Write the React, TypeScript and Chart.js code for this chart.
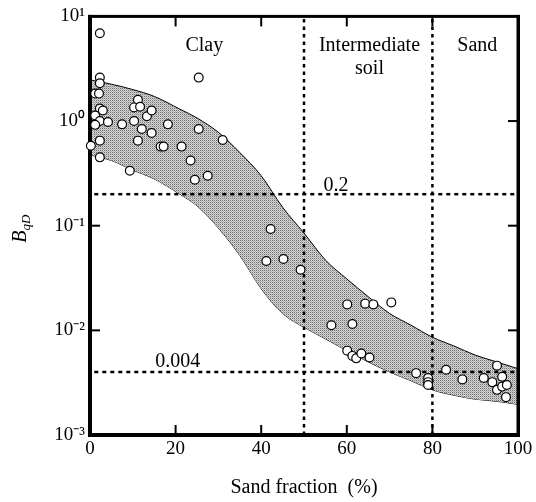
import React, { useEffect, useRef } from 'react';
import { Chart, registerables } from 'chart.js';

Chart.register(...registerables);

// ---- data ----
const sandFraction = [
  2.3, 25.4, 2.3, 2.3, 1.2, 2.1, 2.3, 3.0, 1.2, 2.3, 4.2, 7.5, 1.2, 11.2, 10.3, 11.7, 13.3, 14.4,
  10.3, 12.1, 14.4, 18.2, 25.4, 31.0, 0.2, 2.3, 11.2, 16.5, 17.2, 21.4, 2.3, 9.3, 23.5, 24.5, 27.5,
  42.2, 41.2, 45.2, 49.2, 60.1, 64.3, 66.2, 70.4, 56.4, 61.3, 60.1, 61.3, 62.2, 63.4, 65.3,
  76.2, 79.0, 79.0, 79.0, 83.2, 87.0, 92.0, 94.0, 95.1, 96.3, 95.1, 96.3, 97.4, 97.2,
];
const bqd = [
  6.9, 2.6, 2.6, 2.3, 1.83, 1.83, 1.32, 1.26, 1.13, 1.0, 0.98, 0.93, 0.92, 1.6, 1.35, 1.37, 1.11, 1.26,
  1.0, 0.84, 0.77, 0.93, 0.84, 0.66, 0.58, 0.65, 0.65, 0.57, 0.57, 0.57, 0.45, 0.335, 0.42, 0.275, 0.3,
  0.093, 0.046, 0.048, 0.038, 0.0177, 0.018, 0.0177, 0.0185, 0.0112, 0.0115, 0.0064, 0.0057, 0.0054, 0.006, 0.0055,
  0.0039, 0.0035, 0.0032, 0.003, 0.0042, 0.0034, 0.0035, 0.0032, 0.0046, 0.0036, 0.0027, 0.0029, 0.003, 0.0023,
];

const bandX = [0.5, 5, 10, 15, 21, 25, 30, 35, 40, 45, 50, 55, 60, 65, 70, 75, 80, 85, 90, 95, 100];
const bandUpper = [2.45, 2.25, 2.0, 1.72, 1.3, 1.07, 0.78, 0.5, 0.3, 0.15, 0.085, 0.047, 0.031, 0.021, 0.0145, 0.0112, 0.0086, 0.0071, 0.0058, 0.005, 0.0043];
const bandLower = [0.47, 0.42, 0.34, 0.28, 0.2, 0.155, 0.095, 0.052, 0.025, 0.0145, 0.0107, 0.0083, 0.0064, 0.005, 0.004, 0.0033, 0.0027, 0.0024, 0.0022, 0.0021, 0.00196];

const xTicks = [0, 20, 40, 60, 80, 100];
const yTicks = [0.001, 0.01, 0.1, 1, 10];
const boundaryX = [50, 80];
const boundaryY = [0.2, 0.004];
const regionLabels = ['Clay', 'Intermediate', 'soil', 'Sand'];
const xTitle = 'Sand fraction  (%)';
const yTitleMain = 'B';
const yTitleSub = 'qD';

const FONT = "'Liberation Serif', 'Times New Roman', serif";
const SUP: Record<string, string> = { '-': '\u207B', '0': '\u2070', '1': '\u00B9', '2': '\u00B2', '3': '\u00B3' };

function makePattern(): CanvasPattern | string {
  const c = document.createElement('canvas');
  c.width = 2;
  c.height = 2;
  const g = c.getContext('2d');
  if (!g) return '#bbb';
  g.fillStyle = '#d4d4d4';
  g.fillRect(0, 0, 2, 2);
  g.fillStyle = '#707070';
  g.fillRect(0, 0, 1, 1);
  g.fillStyle = '#b0b0b0';
  g.fillRect(1, 1, 1, 1);
  return g.createPattern(c, 'repeat') || '#bbb';
}

const framePlugin = {
  id: 'frame',
  beforeDatasetDraw(chart: any, args: any) {
    if (args.index !== 0) return;
    const { ctx, chartArea: ca, scales } = chart;
    const xs = scales.x;
    const ys = scales.y;
    ctx.save();
    ctx.fillStyle = '#000';
    const w = ca.right - ca.left;
    const h = ca.bottom - ca.top;
    ctx.fillRect(ca.left - 2, ca.top - 1.5, 4, h + 3.5);
    ctx.fillRect(ca.left - 2, ca.top - 1.5, w + 3.5, 3);
    ctx.fillRect(ca.right - 1.5, ca.top - 1.5, 3.5, h + 3.5);
    ctx.fillRect(ca.left - 2, ca.bottom - 2, w + 4, 4);
    xTicks.slice(1, -1).forEach((v) => {
      const px = xs.getPixelForValue(v);
      ctx.fillRect(px - 1, ca.bottom - 10, 2, 10);
      ctx.fillRect(px - 1, ca.top, 2, 10);
    });
    yTicks.slice(1, -1).forEach((v) => {
      const py = ys.getPixelForValue(v);
      ctx.fillRect(ca.left, py - 1, 10, 2);
      ctx.fillRect(ca.right - 10, py - 1, 10, 2);
    });
    ctx.restore();
  },
  afterDraw(chart: any) {
    const { ctx, chartArea: ca, scales } = chart;
    const xs = scales.x;
    const ys = scales.y;
    ctx.save();
    ctx.fillStyle = '#000';
    ctx.textBaseline = 'alphabetic';
    ctx.textAlign = 'center';
    ctx.font = `20px ${FONT}`;
    // region labels
    const topBase = ca.top + 35;
    ctx.fillText(regionLabels[0], xs.getPixelForValue(26.7), topBase);
    ctx.fillText(regionLabels[1], xs.getPixelForValue(65.3), topBase);
    ctx.fillText(regionLabels[2], xs.getPixelForValue(65.3), topBase + 23);
    ctx.fillText(regionLabels[3], xs.getPixelForValue(90.5), topBase);
    // boundary value labels
    ctx.fillText(String(boundaryY[0]), xs.getPixelForValue(57.5), ys.getPixelForValue(boundaryY[0]) - 3);
    ctx.fillText(String(boundaryY[1]), xs.getPixelForValue(20.5), ys.getPixelForValue(boundaryY[1]) - 5);
    // y title
    ctx.translate(26, (ca.top + ca.bottom) / 2 + 3);
    ctx.rotate(-Math.PI / 2);
    ctx.textAlign = 'left';
    ctx.font = `italic 20px ${FONT}`;
    const wb = ctx.measureText(yTitleMain).width;
    ctx.font = `italic 13px ${FONT}`;
    const ws = ctx.measureText(yTitleSub).width;
    const start = -(wb + ws) / 2;
    ctx.font = `italic 20px ${FONT}`;
    ctx.fillText(yTitleMain, start, 0);
    ctx.font = `italic 13px ${FONT}`;
    ctx.fillText(yTitleSub, start + wb, 4);
    ctx.restore();
  },
};

export default function App() {
  const ref = useRef<HTMLCanvasElement | null>(null);
  useEffect(() => {
    if (!ref.current) return;
    const pattern = makePattern();
    const points = sandFraction.map((x, i) => ({ x, y: bqd[i] }));
    const upper = bandX.map((x, i) => ({ x, y: bandUpper[i] }));
    const lower = bandX.map((x, i) => ({ x, y: bandLower[i] }));
    const yMin = yTicks[0];
    const yMax = yTicks[yTicks.length - 1];
    const dotted = {
      borderColor: '#000',
      borderWidth: 2.5,
      borderDash: [4, 4],
      pointRadius: 0,
      fill: false,
      tension: 0,
    };
    const datasets: any[] = [
      {
        label: 'data',
        data: points,
        showLine: false,
        pointRadius: 4.4,
        pointBackgroundColor: '#fff',
        pointBorderColor: '#000',
        pointBorderWidth: 1.2,
        clip: false,
      },
      ...boundaryX.map((v) => ({
        ...dotted,
        label: `x=${v}`,
        borderDash: [3.5, 4],
        data: [{ x: v, y: yMin }, { x: v, y: yMax }],
      })),
      ...boundaryY.map((v) => ({
        ...dotted,
        label: `y=${v}`,
        data: [{ x: 1, y: v }, { x: xTicks[xTicks.length - 1], y: v }],
      })),
      {
        label: 'upper',
        data: upper,
        borderColor: '#000',
        borderWidth: 1,
        pointRadius: 0,
        cubicInterpolationMode: 'monotone',
        fill: '+1',
        backgroundColor: pattern,
      },
      {
        label: 'lower',
        data: lower,
        borderColor: '#000',
        borderWidth: 1,
        pointRadius: 0,
        cubicInterpolationMode: 'monotone',
        fill: false,
      },
    ];
    const chart = new Chart(ref.current, {
      type: 'line',
      data: { datasets },
      options: {
        animation: false,
        responsive: false,
        devicePixelRatio: 1,
        layout: { padding: { top: 12, right: 18, left: 0, bottom: 0 } },
        plugins: { legend: { display: false }, tooltip: { enabled: false } },
        scales: {
          x: {
            type: 'linear',
            min: xTicks[0],
            max: xTicks[xTicks.length - 1],
            grid: { display: false, drawTicks: false },
            border: { display: false },
            afterBuildTicks: (s: any) => {
              s.ticks = xTicks.map((v) => ({ value: v }));
            },
            afterFit: (s: any) => {
              s.height = 67;
            },
            ticks: {
              color: '#000',
              padding: 3,
              maxRotation: 0,
              autoSkip: false,
              font: { family: FONT, size: 19 },
              callback: (v: any) => String(v),
            },
            title: {
              display: true,
              text: xTitle,
              color: '#000',
              font: { family: FONT, size: 20 },
              padding: { top: 0, bottom: 2 },
            },
          },
          y: {
            type: 'logarithmic',
            min: yMin,
            max: yMax,
            grid: { display: false, drawTicks: false },
            border: { display: false },
            afterBuildTicks: (s: any) => {
              s.ticks = yTicks.map((v) => ({ value: v }));
            },
            afterFit: (s: any) => {
              s.width = 90;
            },
            ticks: {
              color: '#000',
              padding: 5,
              autoSkip: false,
              font: { family: FONT, size: 19 },
              callback: (v: any) => {
                const e = String(Math.round(Math.log10(Number(v))));
                return '10' + e.split('').map((c) => SUP[c] || c).join('');
              },
            },
          },
        },
      },
      plugins: [framePlugin],
    } as any);
    return () => chart.destroy();
  }, []);
  return (
    <div style={{ position: 'absolute', left: 0, top: 0, width: 536, height: 502, background: '#fff' }}>
      <canvas ref={ref} width={536} height={502} style={{ display: 'block' }} />
    </div>
  );
}
